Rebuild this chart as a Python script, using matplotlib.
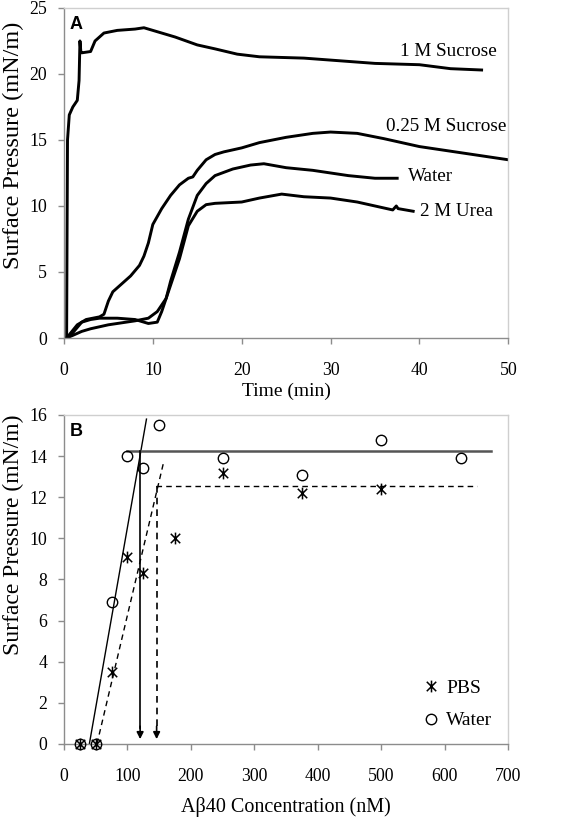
import numpy as np
import matplotlib
matplotlib.use("Agg")
import matplotlib.pyplot as plt
from matplotlib.path import Path

plt.rcParams['font.family'] = ['Liberation Serif', 'DejaVu Serif']
plt.rcParams['font.size'] = 12

# ---- panel A: surface pressure vs time ----
t_suc1 = [0.3, 0.35, 0.4, 0.6, 1.0, 1.5, 1.7, 1.8, 1.9, 2.0, 3.0, 3.5, 4.5, 6, 8, 9, 10.5,
          12.5, 15, 17, 19.5, 22, 27, 31, 35, 40, 43.5, 47]
p_suc1 = [0, 8, 15, 16.9, 17.5, 18.0, 19.5, 22.5, 21.7, 21.6, 21.7, 22.5, 23.1, 23.3, 23.4, 23.5, 23.2,
          22.8, 22.2, 21.9, 21.5, 21.3, 21.2, 21.0, 20.8, 20.7, 20.4, 20.3]

t_suc025 = [0.3, 1.5, 2.5, 4, 4.5, 5, 5.5, 6.5, 7.5, 8.5, 9, 9.5, 10, 11, 12, 13, 14, 14.5, 15,
            16, 17, 18, 20, 22, 25, 28, 30, 33, 36, 40, 42, 45, 48, 50]
p_suc025 = [0, 1.0, 1.4, 1.6, 1.8, 2.8, 3.5, 4.1, 4.7, 5.5, 6.2, 7.2, 8.6, 9.8, 10.8, 11.6, 12.1, 12.2, 12.7,
            13.5, 13.9, 14.1, 14.4, 14.8, 15.2, 15.5, 15.6, 15.5, 15.1, 14.5, 14.3, 14.0, 13.7, 13.5]

t_water = [0.3, 1, 2, 3, 4, 6, 8, 9.5, 10.5, 11, 11.5, 12, 13, 14, 15, 16, 17, 19, 21, 22.5,
           25, 28, 32, 35, 37.5]
p_water = [0, 0.4, 1.2, 1.4, 1.5, 1.5, 1.4, 1.1, 1.2, 2.0, 3.0, 4.3, 6.5, 9.0, 10.8, 11.7, 12.3, 12.8, 13.1, 13.2,
           12.9, 12.7, 12.3, 12.1, 12.1]

t_urea = [0.3, 1, 2, 3, 5, 8, 9.5, 10.5, 11, 11.5, 12, 13, 14, 15, 16, 17, 20, 22, 24.5,
          27, 30, 33, 37, 37.4, 37.6, 39.3]
p_urea = [0, 0.2, 0.5, 0.7, 1.0, 1.3, 1.5, 2.0, 2.5, 3.0, 4.0, 6.0, 8.5, 9.6, 10.1, 10.2, 10.3, 10.6, 10.9,
          10.7, 10.6, 10.3, 9.7, 10.0, 9.8, 9.6]

curve_labels = ['1 M Sucrose', '0.25 M Sucrose', 'Water', '2 M Urea']
label_t = [43.3, 43.0, 41.2, 44.2]
label_p = [21.7, 16.0, 12.25, 9.6]

# ---- panel B: surface pressure vs concentration ----
conc_water = [25, 50, 75, 100, 125, 150, 250, 375, 500, 625]
sp_water = [0, 0, 6.9, 14.0, 13.4, 15.5, 13.9, 13.1, 14.8, 13.9]
conc_pbs = [25, 50, 75, 100, 125, 175, 250, 375, 500]
sp_pbs = [0, 0, 3.5, 9.1, 8.3, 10.0, 13.2, 12.2, 12.4]

# fit lines (water = solid, PBS = dashed)
water_rise_x = [40, 130]
water_rise_y = [0, 15.8]
water_plateau_x = [100, 673]
water_plateau = 14.25
water_cmc = 120
pbs_rise_x = [52, 157]
pbs_rise_y = [0, 13.7]
pbs_plateau_x = [145, 651]
pbs_plateau = 12.55
pbs_cmc = 146

fig = plt.figure(figsize=(5.61, 8.19), dpi=100)
axA = fig.add_axes([0.114, 0.5873, 0.792, 0.403])
axB = fig.add_axes([0.114, 0.0916, 0.792, 0.4017])


def style_axes(ax):
    for s in ['left', 'bottom']:
        ax.spines[s].set_color('#8c8c8c')
    for s in ['top', 'right']:
        ax.spines[s].set_color('#cfcfcf')
    for s in ax.spines.values():
        s.set_linewidth(1.0)
    ax.tick_params(direction='out', length=4, width=1, color='#8c8c8c', labelsize=12.8)
    ax.tick_params(axis='x', pad=13)
    ax.tick_params(axis='y', pad=8)


for t, p in [(t_suc1, p_suc1), (t_suc025, p_suc025), (t_water, p_water), (t_urea, p_urea)]:
    axA.plot(t, p, color='black', lw=2.1, solid_joinstyle='round')
for lab, x, y in zip(curve_labels, label_t, label_p):
    axA.text(x, y, lab, ha='center', va='center', fontsize=13.8)
axA.set_xlim(0, 50)
axA.set_ylim(0, 25)
axA.set_xticks(range(0, 51, 10))
axA.set_yticks(range(0, 26, 5))
axA.set_xlabel('Time (min)', fontsize=14, labelpad=3)
axA.set_ylabel('Surface Pressure (mN/m)', fontsize=17.5)
axA.yaxis.set_label_coords(-0.09, 0.585)
axA.text(0.012, 0.975, 'A', transform=axA.transAxes, ha='left', va='top',
         fontsize=13, fontweight='bold', family='Liberation Sans')
style_axes(axA)

# asterisk marker: X plus vertical bar
ast = Path([(0, -1), (0, 1), (-0.8, -0.8), (0.8, 0.8), (-0.8, 0.8), (0.8, -0.8)],
           [Path.MOVETO, Path.LINETO, Path.MOVETO, Path.LINETO, Path.MOVETO, Path.LINETO])

axB.plot(water_rise_x, water_rise_y, color='black', lw=1.0)
axB.plot(water_plateau_x, [water_plateau] * 2, color='#555555', lw=1.8)
axB.plot([water_cmc, water_cmc], [water_plateau, 0.8], color='black', lw=1.2)
axB.annotate('', xy=(water_cmc, 0.1), xytext=(water_cmc, 1.0),
             arrowprops=dict(arrowstyle='-|>', color='black', lw=1.2, mutation_scale=10))
axB.plot(pbs_rise_x, pbs_rise_y, color='black', lw=1.0, ls=(0, (4, 3)))
axB.plot(pbs_plateau_x, [pbs_plateau] * 2, color='black', lw=1.0, ls=(0, (4, 3)))
axB.plot([pbs_cmc, pbs_cmc], [pbs_plateau, 0.8], color='black', lw=1.2, ls=(0, (4, 3)))
axB.annotate('', xy=(pbs_cmc, 0.1), xytext=(pbs_cmc, 1.0),
             arrowprops=dict(arrowstyle='-|>', color='black', lw=1.2, mutation_scale=10))

axB.plot(conc_pbs, sp_pbs, ls='none', marker=ast, ms=8.5, mew=1.1, color='black', label='PBS',
         clip_on=False, zorder=4)
axB.plot(conc_water, sp_water, ls='none', marker='o', ms=7.5, mew=1.0, mfc='none', color='black',
         label='Water', clip_on=False, zorder=4)
axB.legend(loc='center left', frameon=False, bbox_to_anchor=(0.79, 0.12), borderaxespad=0,
           handlelength=0.8, handletextpad=0.4, labelspacing=0.75, fontsize=14)
axB.set_xlim(0, 700)
axB.set_ylim(0, 16)
axB.set_xticks(range(0, 701, 100))
axB.set_yticks(range(0, 17, 2))
axB.set_xlabel('Aβ40 Concentration (nM)', fontsize=14.5, labelpad=9)
axB.set_ylabel('Surface Pressure (mN/m)', fontsize=17)
axB.yaxis.set_label_coords(-0.09, 0.635)
axB.text(0.012, 0.975, 'B', transform=axB.transAxes, ha='left', va='top',
         fontsize=13, fontweight='bold', family='Liberation Sans')
style_axes(axB)

fig.savefig('out.png', dpi=100)
